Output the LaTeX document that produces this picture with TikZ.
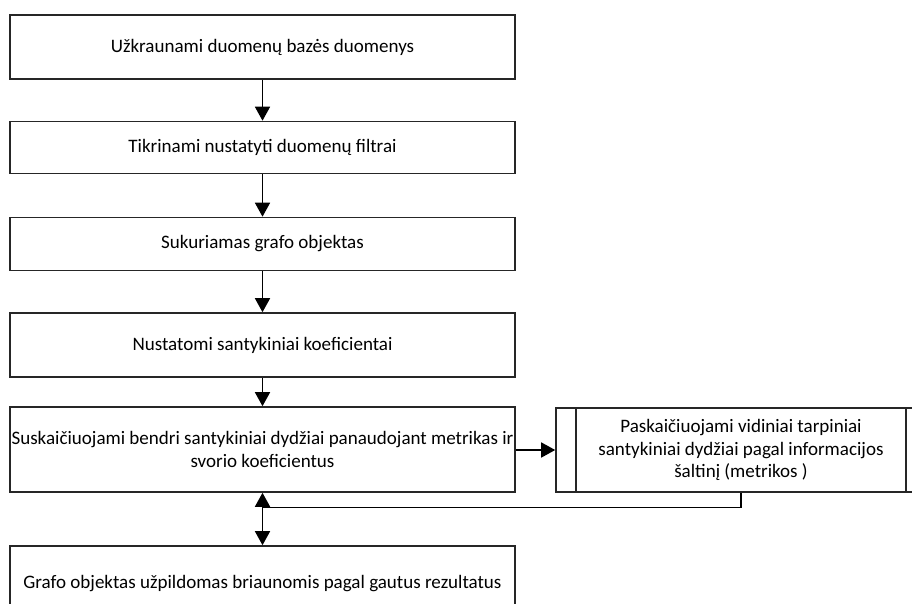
\documentclass[tikz,border=0pt]{standalone}
\usepackage{fontspec}
\setmainfont{Carlito}
\usetikzlibrary{arrows.meta}
\begin{document}
\begin{tikzpicture}[x=1bp,y=-1bp,
  line width=1.6bp,
  stepbox/.style={draw=black!85, fill=white, minimum width=505bp, inner sep=0pt, align=center, font=\fontsize{19.1}{22.5}\selectfont},
  subbox/.style={draw=black!85, fill=white, minimum width=370bp, minimum height=84bp, inner sep=0pt, align=center, font=\fontsize{19.1}{22.5}\selectfont},
  flow/.style={draw=black, -{Triangle[width=15bp,length=14bp]}},
]
\useasboundingbox (0,0) rectangle (912,604);
\clip (0,0) rectangle (912,604);

% main column of process steps
\node[stepbox, minimum height=64bp] (s1) at (262.5,47) {Užkraunami duomenų bazės duomenys};
\node[stepbox, minimum height=52bp] (s2) at (262.5,147.5) {Tikrinami nustatyti duomenų filtrai};
\node[stepbox, minimum height=53bp] (s3) at (262.5,244) {Sukuriamas grafo objektas};
\node[stepbox, minimum height=64bp] (s4) at (262.5,345) {Nustatomi santykiniai koeficientai};
\node[stepbox, minimum height=85bp] (s5) at (262.5,449.5) {Suskaičiuojami bendri santykiniai dydžiai panaudojant metrikas ir\\svorio koeficientus};
\node[stepbox, minimum height=76bp] (s6) at (262.5,584) {Grafo objektas užpildomas briaunomis pagal gautus rezultatus};

% predefined sub-process with its two side bars
\node[subbox] (sub) at (741,450) {Paskaičiuojami vidiniai tarpiniai\\santykiniai dydžiai pagal informacijos\\šaltinį (metrikos )};
\draw[black!85] ([xshift=21bp]sub.north west) -- ([xshift=21bp]sub.south west);
\draw[black!85] ([xshift=-21bp]sub.north east) -- ([xshift=-21bp]sub.south east);

% connectors
\draw[flow] (s1) -- (s2);
\draw[flow] (s2) -- (s3);
\draw[flow] (s3) -- (s4);
\draw[flow] (s4) -- (s5);
\draw[flow] (s5.east |- sub.west) -- (sub.west);

\coordinate (join) at (262.5,507.5);
\draw (sub.south) |- (join);
\draw[flow] (join) -- (join |- s5.south);
\draw[flow] (join) -- (join |- s6.north);
\end{tikzpicture}
\end{document}
